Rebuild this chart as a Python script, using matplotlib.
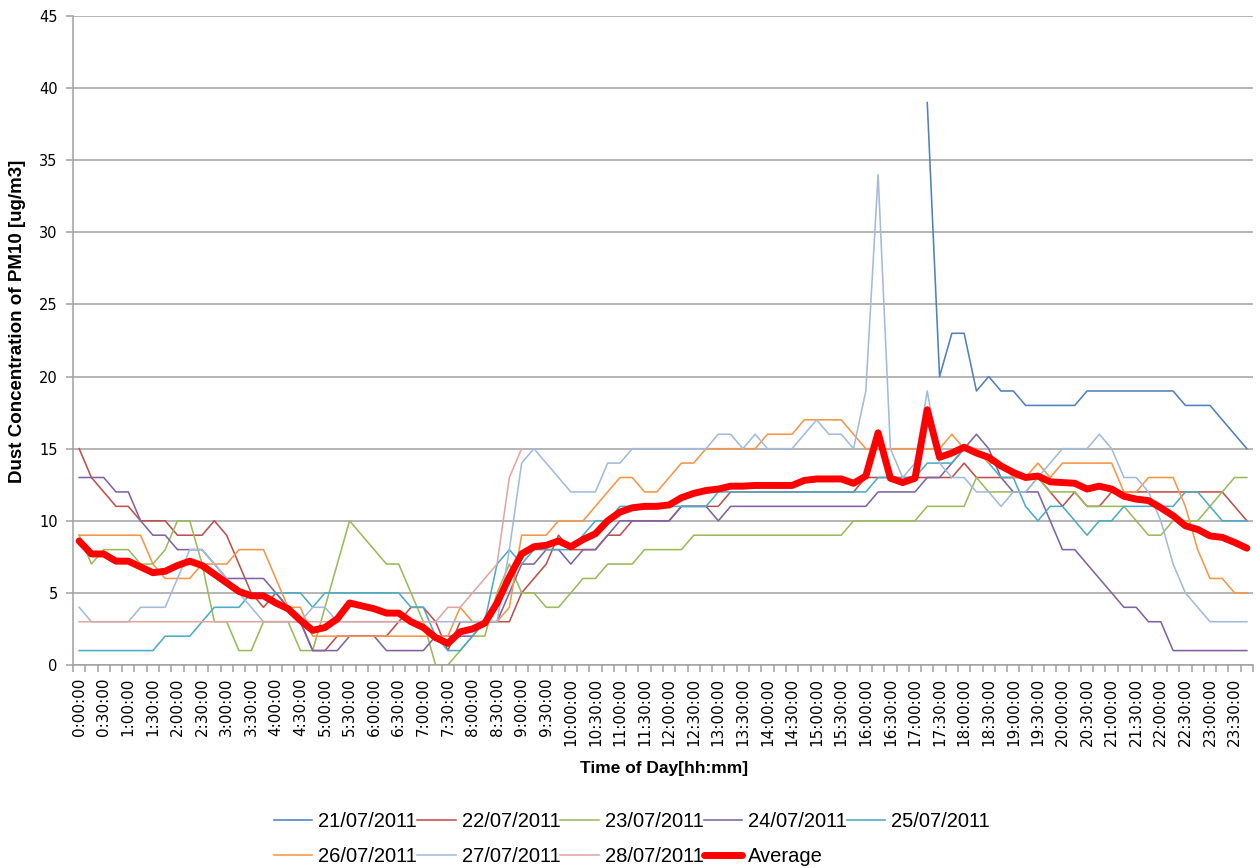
import numpy as np
import matplotlib
matplotlib.use('Agg')
import matplotlib.pyplot as plt

nan = np.nan

# 15-minute slots over one day
times = ['%d:%02d:00' % (m // 60, m % 60) for m in range(0, 24 * 60, 15)]

d21 = [nan] * 69 + [39, 20, 23, 23, 19, 20, 19, 19, 18, 18, 18, 18, 18,
                    19, 19, 19, 19, 19, 19, 19, 19, 18, 18, 18, 17, 16, 15]
d22 = [15, 13, 12, 11, 11, 10, 10, 10, 9, 9, 9, 10, 9, 7, 5, 4, 5,
       4, 3, 1, 1, 2, 2, 2, 2, 2, 3, 4, 4, 3, 1, 3, 3,
       3, 3, 3, 5, 6, 7, 9, 8, 8, 8, 9, 9, 10, 10, 10, 10,
       11, 11, 11, 11, 12, 12, 12, 12, 12, 12, 12, 12, 12, 12, 12, 13, 13,
       13, 13, 13, 13, 13, 13, 14, 13, 13, 13, 13, 13, 13, 12,
       11, 12, 11, 11, 12, 12, 12, 12, 12, 12, 12, 12, 12, 12, 11, 10]
d23 = [9, 7, 8, 8, 8, 7, 7, 8, 10, 10, 7, 3, 3, 1, 1, 3, 3,
       3, 1, 1, 4, 7, 10, 9, 8, 7, 7, 5, 3, 0, 0, 1, 2,
       2, 5, 7, 5, 5, 4, 4, 5, 6, 6, 7, 7, 7, 8, 8, 8,
       8, 9, 9, 9, 9, 9, 9, 9, 9, 9, 9, 9, 9, 9,
       10, 10, 10, 10, 10, 10, 11, 11, 11, 11,
       13, 12, 12, 12, 12, 13, 12, 12, 12, 11, 11, 11, 11, 10, 9, 9,
       10, 10, 10, 11, 12, 13, 13]
d24 = [13, 13, 13, 12, 12, 10, 9, 9, 8, 8, 8, 7, 6, 6, 6, 6, 5,
       4, 3, 1, 1, 1, 2, 2, 2, 1, 1, 1, 1, 2, 2, 2, 2,
       3, 3, 5, 7, 7, 8, 8, 7, 8, 8, 9, 10, 10, 10, 10, 10,
       11, 11, 11, 10, 11, 11, 11, 11, 11, 11, 11, 11, 11, 11, 11, 11,
       12, 12, 12, 12, 13, 13, 14, 15, 16, 15, 13, 12, 12, 12, 10,
       8, 8, 7, 6, 5, 4, 4, 3, 3, 1, 1, 1, 1, 1, 1, 1]
d25 = [1, 1, 1, 1, 1, 1, 1, 2, 2, 2, 3, 4, 4, 4, 5, 5, 5,
       5, 5, 4, 5, 5, 5, 5, 5, 5, 5, 4, 4, 2, 1, 1, 2,
       3, 7, 8, 7, 8, 8, 8, 8, 9, 10, 10, 11, 11, 11, 11, 11,
       11, 11, 11, 12, 12, 12, 12, 12, 12, 12, 12, 12, 12, 12, 12, 12,
       13, 13, 13, 13, 14, 14, 14, 15, 15, 14, 13, 13, 11, 10, 11, 11,
       10, 9, 10, 10, 11, 11, 11, 11, 11, 12, 12, 11, 10, 10, 10]
d26 = [9, 9, 9, 9, 9, 9, 7, 6, 6, 6, 7, 7, 7, 8, 8, 8, 6,
       4, 4, 2, 2, 2, 2, 2, 2, 2, 2, 2, 2, 2, 2, 4, 3,
       3, 3, 4, 9, 9, 9, 10, 10, 10, 11, 12, 13, 13, 12, 12, 13,
       14, 14, 15, 15, 15, 15, 15, 16, 16, 16, 17, 17, 17, 17, 16, 15,
       15, 15, 15, 15, 15, 15, 16, 15, 15, 14, 14, 13, 13, 14, 13, 14,
       14, 14, 14, 14, 12, 12, 13, 13, 13, 11, 8, 6, 6, 5, 5]
d27 = [4, 3, 3, 3, 3, 4, 4, 4, 6, 8, 8, 7, 6, 5, 4, 3, 3,
       3, 3, 4, 4, 3, 3, 3, 3, 3, 3, 3, 3, 3, 3, 3, 3,
       3, 3, 8, 14, 15, 14, 13, 12, 12, 12, 14, 14, 15, 15, 15, 15,
       15, 15, 15, 16, 16, 15, 16, 15, 15, 15, 16, 17, 16, 16, 15, 19, 34,
       15, 13, 14, 19, 14, 13, 13, 12, 12, 11, 12, 12, 13, 14, 15,
       15, 15, 16, 15, 13, 13, 12, 10, 7, 5, 4, 3, 3, 3, 3]
d28 = [3] * 30 + [4, 4, 5, 6, 7, 13, 15] + [nan] * 59
average = [8.6, 7.7, 7.7, 7.2, 7.2, 6.8, 6.4, 6.5, 6.9, 7.2, 6.9, 6.3, 5.7, 5.1, 4.8, 4.8, 4.3,
           3.9, 3.1, 2.4, 2.6, 3.2, 4.3, 4.1, 3.9, 3.6, 3.6, 3.0, 2.6, 1.9, 1.5, 2.3, 2.5,
           2.9, 4.3, 6.1, 7.7, 8.2, 8.3, 8.6, 8.2, 8.7, 9.1, 10.0, 10.6, 10.9, 11.0, 11.0, 11.1, 11.6,
           11.9, 12.1, 12.2, 12.4, 12.4, 12.45, 12.45, 12.45, 12.45, 12.8, 12.9, 12.9, 12.9, 12.6, 13.1, 16.1,
           12.95, 12.65, 12.95, 17.7, 14.4, 14.7, 15.1, 14.7, 14.4, 13.8, 13.35, 13.0, 13.1, 12.7, 12.65,
           12.6, 12.2, 12.4, 12.2, 11.7, 11.5, 11.4, 10.9, 10.35, 9.65, 9.4, 8.95, 8.85, 8.5, 8.1]

days = ['21/07/2011', '22/07/2011', '23/07/2011', '24/07/2011', '25/07/2011',
        '26/07/2011', '27/07/2011', '28/07/2011']
day_values = [d21, d22, d23, d24, d25, d26, d27, d28]
day_colors = ['#4F81BD', '#C0504D', '#9BBB59', '#8064A2', '#4BACC6',
              '#F79646', '#A2BBDD', '#E3A5A4']

W, H = 1258, 868
fig = plt.figure(figsize=(W / 100, H / 100), dpi=100)
ax = fig.add_axes([73 / W, 1 - 665 / H, (1253 - 73) / W, (665 - 16) / H])

x = np.arange(len(times))
handles = []
for name, vals, col in zip(days, day_values, day_colors):
    h, = ax.plot(x, vals, color=col, lw=1.15, label=name)
    handles.append(h)
h, = ax.plot(x, average, color='#FF0000', lw=5, label='Average',
             solid_joinstyle='round', solid_capstyle='round')
handles.append(h)

grid_col = '#A0A0A0'
ax.set_xlim(-0.5, len(times) - 0.5)
ax.set_ylim(0, 45)
ax.set_yticks(range(0, 46, 5))
ax.yaxis.grid(True, color=grid_col, lw=1.1)
ax.set_axisbelow(True)
for s in ['top', 'right']:
    ax.spines[s].set_visible(False)
for s in ['left', 'bottom']:
    ax.spines[s].set_color(grid_col)
    ax.spines[s].set_linewidth(1.1)

ax.set_xticks(x[::2])
ax.set_xticklabels(times[::2], rotation=90, fontsize=11, family='DejaVu Sans')
ax.set_xticks(np.arange(-0.5, len(times), 1), minor=True)
ax.tick_params(axis='x', which='major', length=0, pad=9)
ax.tick_params(axis='x', which='minor', length=5, color=grid_col, width=1.1)
ax.tick_params(axis='y', length=5, color=grid_col, width=1.1, labelsize=10.5, pad=6)

fig.text(664 / W, 1 - 768 / H, 'Time of Day[hh:mm]', ha='center', va='center',
         fontsize=12.5, fontweight='bold', family='Liberation Sans')
fig.text(18 / W, 1 - 321 / H, 'Dust Concentration of PM10 [ug/m3]', ha='center',
         va='center', rotation=90, fontsize=13.5, fontweight='bold',
         family='Liberation Sans')

# legend laid out row-wise like Excel (matplotlib fills column-wise)
order = [0, 5, 1, 6, 2, 7, 3, 8, 4]
fig.legend([handles[i] for i in order], [handles[i].get_label() for i in order],
           loc='center', bbox_to_anchor=(632 / W, 1 - 839 / H), ncol=5,
           frameon=False, prop={'family': 'Liberation Sans', 'size': 14.5},
           handlelength=1.9, handletextpad=0.3, columnspacing=0.0,
           labelspacing=0.75)

fig.savefig('out.png', dpi=100)
